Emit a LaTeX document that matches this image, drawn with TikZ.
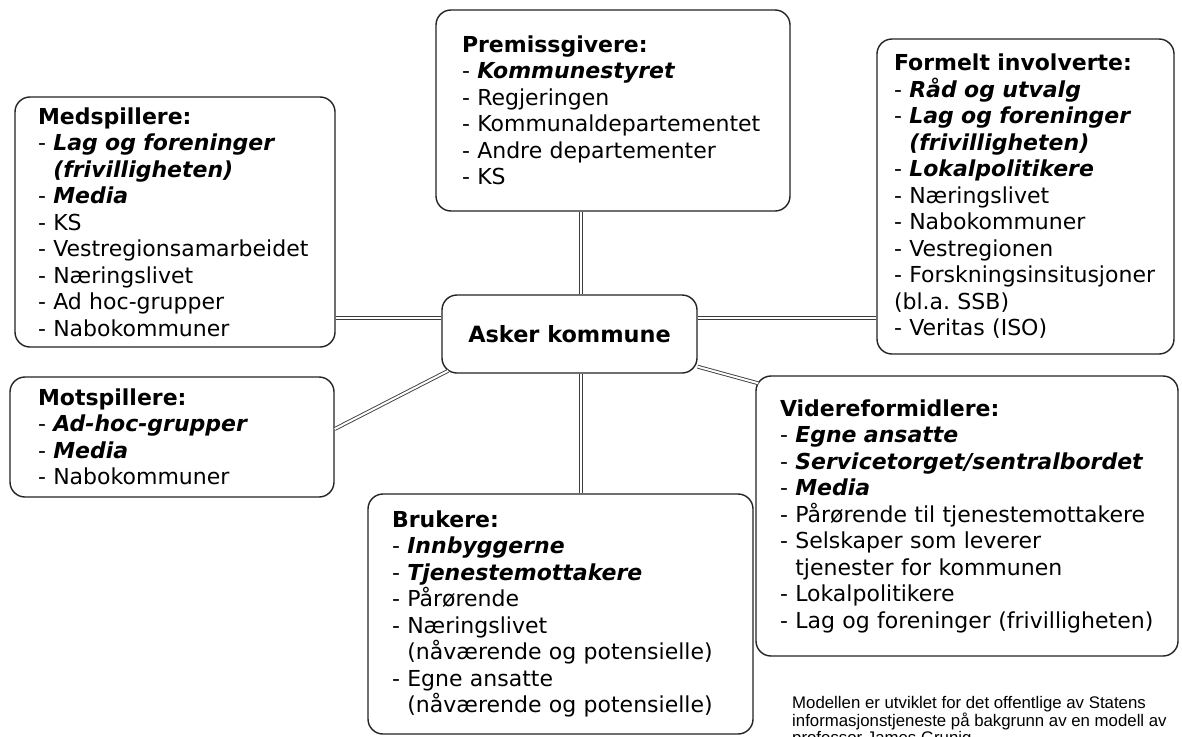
\documentclass[tikz,border=0pt]{standalone}
\usepackage{fontspec}
\setmainfont{DejaVu Sans}
\newfontfamily\notefont{Liberation Sans}
\usetikzlibrary{positioning,calc}
\frenchspacing
\definecolor{boxline}{RGB}{35,35,35}
\definecolor{linkline}{RGB}{60,60,60}
\newcommand{\itm}[1]{\mbox{- #1}}
\newcommand{\bitm}[1]{\mbox{- \textbf{\textit{#1}}}}
\newcommand{\cnt}[1]{\mbox{\phantom{- }#1}}
\newcommand{\bcnt}[1]{\mbox{\phantom{- }\textbf{\textit{#1}}}}
\tikzset{
  grp/.style={draw=boxline,fill=white,line width=1.4pt,rounded corners=15pt,
              align=left,inner ysep=0pt,
              font=\fontsize{22}{26.5}\selectfont},
  hub/.style={grp,align=center,font=\fontsize{22.4}{26}\selectfont\bfseries},
  link/.style={draw=linkline,line width=0.9pt,double=white,double distance=2pt},
  note/.style={anchor=north west,inner sep=0pt,align=left,
               font=\notefont\fontsize{16.8}{17}\selectfont},
}

\begin{document}
\begin{tikzpicture}[x=1pt,y=-1pt]
  \useasboundingbox[fill=white] (0,0) rectangle (1182,736);

  \node[hub,minimum width=255pt,minimum height=78pt](asker) at (569.5,334) {Asker kommune};
  \node[grp,minimum width=354pt,minimum height=201pt,text width=302pt,inner xsep=26pt]
    (premiss) at (613,110.5)
    {\textbf{Premissgivere:}\\ \bitm{Kommunestyret}\\ \itm{Regjeringen}\\
     \itm{Kommunaldepartementet}\\ \itm{Andre departementer}\\ \itm{KS}};
  \node[grp,minimum width=320pt,minimum height=250pt,text width=274pt,inner xsep=23pt]
    (medspill) at (175,222)
    {\textbf{Medspillere:}\\ \bitm{Lag og foreninger}\\ \bcnt{(frivilligheten)}\\
     \bitm{Media}\\ \itm{KS}\\ \itm{Vestregionsamarbeidet}\\ \itm{Næringslivet}\\
     \itm{Ad hoc-grupper}\\ \itm{Nabokommuner}};
  \node[grp,minimum width=297pt,minimum height=315pt,text width=263pt,inner xsep=17pt]
    (formelt) at (1025.5,196.5)
    {\textbf{Formelt involverte:}\\ \bitm{Råd og utvalg}\\ \bitm{Lag og foreninger}\\
     \bcnt{(frivilligheten)}\\ \bitm{Lokalpolitikere}\\ \itm{Næringslivet}\\
     \itm{Nabokommuner}\\ \itm{Vestregionen}\\ \itm{Forskningsinsitusjoner}\\
     \mbox{(bl.a. SSB)}\\ \itm{Veritas (ISO)}};
  \node[grp,minimum width=324pt,minimum height=120pt,text width=268pt,inner xsep=28pt]
    (motspill) at (172,437)
    {\textbf{Motspillere:}\\ \bitm{Ad-hoc-grupper}\\ \bitm{Media}\\ \itm{Nabokommuner}};
  \node[grp,minimum width=385pt,minimum height=240pt,text width=337pt,inner xsep=24pt]
    (brukere) at (560.5,614)
    {\textbf{Brukere:}\\ \bitm{Innbyggerne}\\ \bitm{Tjenestemottakere}\\ \itm{Pårørende}\\
     \itm{Næringslivet}\\ \mbox{\hspace{0.7em}(nåværende og potensielle)}\\
     \itm{Egne ansatte}\\ \mbox{\hspace{0.7em}(nåværende og potensielle)}};
  \node[grp,minimum width=422pt,minimum height=280pt,text width=374pt,inner xsep=24pt]
    (videre) at (967,516)
    {\textbf{Videreformidlere:}\\ \bitm{Egne ansatte}\\ \bitm{Servicetorget/sentralbordet}\\
     \bitm{Media}\\ \itm{Pårørende til tjenestemottakere}\\ \itm{Selskaper som leverer}\\
     \cnt{tjenester for kommunen}\\ \itm{Lokalpolitikere}\\
     \itm{Lag og foreninger (frivilligheten)}};
  \node[note](note) at (792,696)
    {Modellen er utviklet for det offentlige av Statens\\
     informasjonstjeneste på bakgrunn av en modell av\\
     professor James Grunig};

  \draw[link]([xshift=11.5pt]asker.north) -- ([xshift=11.5pt]asker.north |- premiss.south);
  \draw[link]([xshift=11.5pt]asker.south) -- ([xshift=11.5pt]asker.south |- brukere.north);
  \draw[link]([yshift=16pt]asker.west) -- ([yshift=16pt]asker.west -| medspill.east);
  \draw[link]([yshift=16pt]asker.east) -- ([yshift=16pt]asker.east -| formelt.west);
  \draw[link]([shift={(7pt,3pt)}]asker.south west) -- ([yshift=8pt]motspill.east);
  \draw[link]([yshift=7pt]asker.south east) -- ([shift={(3pt,-8pt)}]videre.north west);
\end{tikzpicture}
\end{document}
